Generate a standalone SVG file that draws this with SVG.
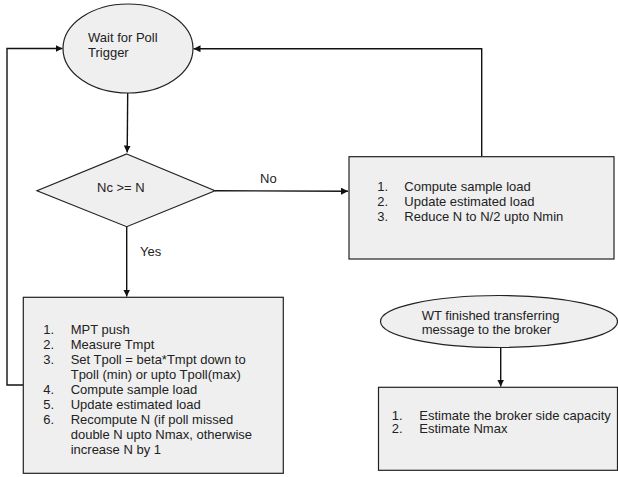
<svg xmlns="http://www.w3.org/2000/svg" width="618" height="477" viewBox="0 0 618 477">
<defs>
<marker id="ah" viewBox="0 0 10 10" refX="10" refY="5" markerWidth="7" markerHeight="7" markerUnits="userSpaceOnUse" orient="auto">
<path d="M0,0 L10,5 L0,10 z" fill="#111"/>
</marker>
<style>
.shape{fill:#efefef;stroke:#222;stroke-width:1.2}
.conn{fill:none;stroke:#111;stroke-width:1.4}
text{font-family:"Liberation Sans",Arial,sans-serif;font-size:13px;fill:#222}
</style>
</defs>
<rect width="618" height="477" fill="#fff"/>
<g id="connectors">
<path class="conn" d="M127.7,93 L127.2,152.5" marker-end="url(#ah)"/>
<path class="conn" d="M215,190.7 L348,191.2" marker-end="url(#ah)"/>
<path class="conn" d="M126.7,226.7 L126.7,296.5" marker-end="url(#ah)"/>
<path class="conn" d="M481.7,156.7 L481.7,48.7 L193.5,48.7" marker-end="url(#ah)"/>
<path class="conn" d="M23.3,385 L7,385 L7,48.5 L62.5,48.5" marker-end="url(#ah)"/>
<path class="conn" d="M500.7,347 L500.7,386.5" marker-end="url(#ah)"/>
<text x="260" y="183">No</text>
<text x="140" y="256">Yes</text>
</g>
<g id="wait">
<ellipse class="shape" cx="128" cy="48.5" rx="65" ry="44.5"/>
<text x="88" y="42">Wait for Poll</text>
<text x="88" y="57">Trigger</text>
</g>
<g id="decision">
<polygon class="shape" points="126.7,154 215,190.7 126.7,226.7 37,190.7"/>
<text x="97" y="192">Nc &gt;= N</text>
</g>
<g id="reduce">
<rect class="shape" x="349" y="156.7" width="265" height="102.3"/>
<text x="377.3" y="190.7">1.</text><text x="404.3" y="190.7">Compute sample load</text>
<text x="377.3" y="205.7">2.</text><text x="404.3" y="205.7">Update estimated load</text>
<text x="377.3" y="220.7">3.</text><text x="404.3" y="220.7">Reduce N to N/2 upto Nmin</text>
</g>
<g id="push">
<rect class="shape" x="23.3" y="297.3" width="260" height="176"/>
<text x="43.3" y="334">1.</text><text x="70.7" y="334">MPT push</text>
<text x="43.3" y="349">2.</text><text x="70.7" y="349">Measure Tmpt</text>
<text x="43.3" y="364">3.</text><text x="70.7" y="364">Set Tpoll = beta*Tmpt down to</text>
<text x="70.7" y="379">Tpoll (min) or upto Tpoll(max)</text>
<text x="43.3" y="394">4.</text><text x="70.7" y="394">Compute sample load</text>
<text x="43.3" y="409">5.</text><text x="70.7" y="409">Update estimated load</text>
<text x="43.3" y="424">6.</text><text x="70.7" y="424">Recompute N (if poll missed</text>
<text x="70.7" y="439">double N upto Nmax, otherwise</text>
<text x="70.7" y="454">increase N by 1</text>
</g>
<g id="wt">
<ellipse class="shape" cx="499" cy="321.5" rx="118.5" ry="26"/>
<text x="421.7" y="319.5">WT finished transferring</text>
<text x="421.7" y="333.5">message to the broker</text>
</g>
<g id="estimate">
<rect class="shape" x="378.5" y="387.3" width="239" height="83"/>
<text x="391.7" y="419.5">1.</text><text x="419.3" y="419.5">Estimate the broker side capacity</text>
<text x="391.7" y="433">2.</text><text x="419.3" y="433">Estimate Nmax</text>
</g>
</svg>
